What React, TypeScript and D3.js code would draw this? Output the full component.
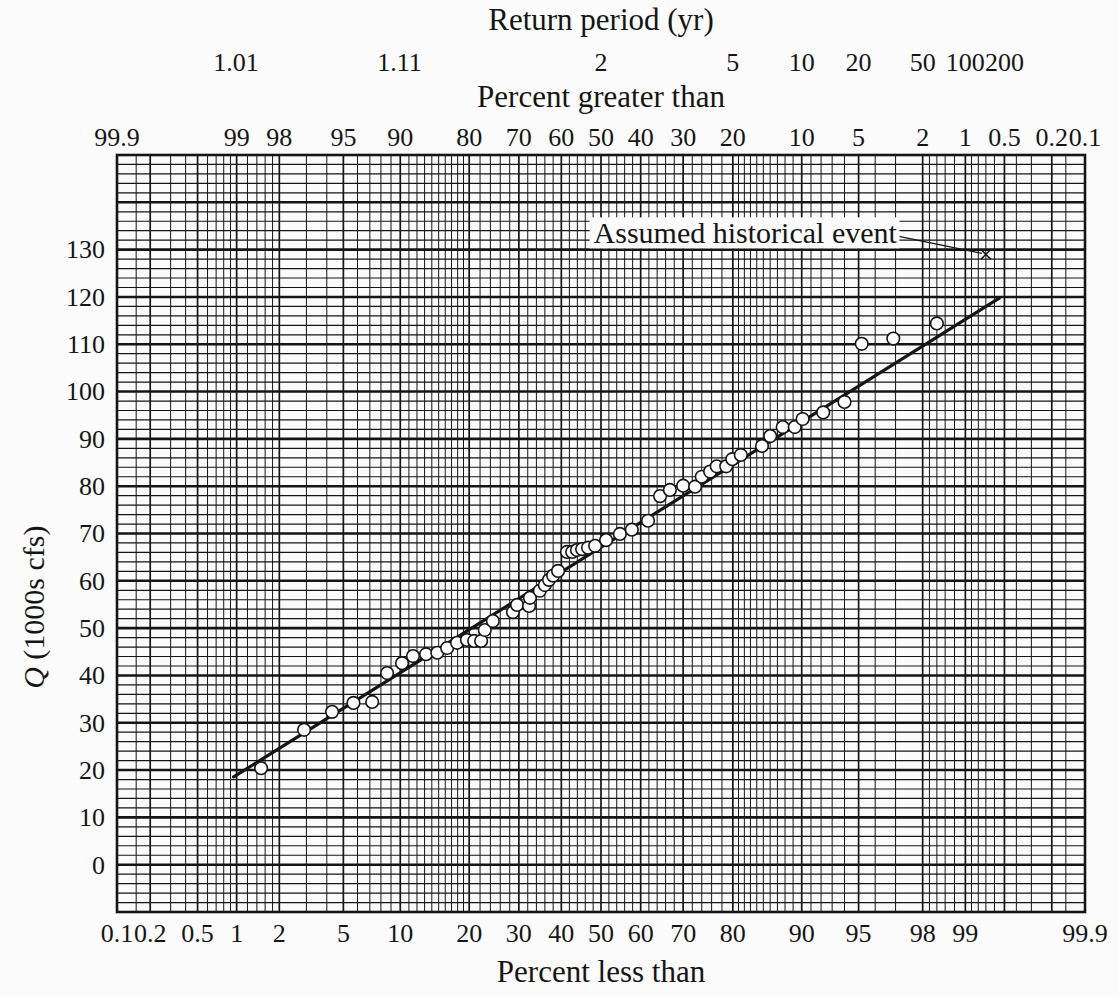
import React, { useEffect, useRef } from "react";
import * as d3 from "d3";

// plotted annual peaks: percent less than (plotting position) and flow in 1000s cfs
const percentLess = [
  1.5, 2.9, 4.3, 5.7, 7.2, 8.6, 10.2, 11.5, 13.2, 14.8, 16.3, 17.9, 19.6, 20.9,
  22.2, 22.9, 24.5, 28.7, 29.6, 32.3, 32.5, 34.8, 36.0, 37.0, 38.0, 39.2, 41.4,
  42.7, 43.9, 45.2, 46.7, 48.5, 51.3, 54.8, 57.8, 61.8, 64.7, 67.0, 70.0, 72.6,
  74.0, 75.7, 77.0, 78.8, 79.9, 81.4, 84.8, 86.0, 87.7, 89.2, 90.1, 92.2, 94.0,
  95.2, 96.9, 98.4,
];
const flowQ = [
  20.4, 28.5, 32.3, 34.2, 34.4, 40.5, 42.6, 44.1, 44.5, 44.8, 45.8, 46.9, 47.5,
  47.3, 47.3, 49.6, 51.5, 53.4, 54.9, 54.7, 56.4, 57.9, 59.1, 60.2, 61.1, 62.1,
  66.1, 66.1, 66.5, 66.7, 67.0, 67.4, 68.6, 69.9, 70.8, 72.7, 77.9, 79.2, 80.1,
  79.9, 82.0, 83.1, 84.2, 84.2, 85.7, 86.6, 88.5, 90.6, 92.5, 92.5, 94.2, 95.6,
  97.8, 110.1, 111.2, 114.4,
];

// fitted normal line (mean, std dev) and the percent range it is drawn over
const fitMean = 67.1;
const fitSd = 20.7;
const fitRange = [0.95, 99.45];

// assumed historical event (percent less than, Q)
const historical = { pct: 99.3, q: 129, label: "Assumed historical event" };

// axis labels
const bottomTicks = ["0.1", "0.2", "0.5", "1", "2", "5", "10", "20", "30", "40", "50", "60", "70", "80", "90", "95", "98", "99", "99.9"];
const topTicks = ["99.9", "99", "98", "95", "90", "80", "70", "60", "50", "40", "30", "20", "10", "5", "2", "1", "0.5", "0.2", "0.1"];
const returnPeriods = ["1.01", "1.11", "2", "5", "10", "20", "50", "100", "200"];
const qTicks = [0, 10, 20, 30, 40, 50, 60, 70, 80, 90, 100, 110, 120, 130];

// probability paper rulings (lower half, mirrored about 50)
const rulingMajor = [0.1, 0.2, 0.5, 1, 2, 5, 10, 20, 30, 40, 50];
const rulingMinor = [
  0.15, 0.3, 0.4, 0.6, 0.7, 0.8, 0.9, 1.2, 1.4, 1.6, 1.8, 3, 4, 6, 7, 8, 9,
  11, 12, 13, 14, 15, 16, 17, 18, 19, 22, 24, 26, 28, 32, 34, 36, 38, 42, 44, 46, 48,
];

// inverse standard normal cdf (Acklam)
function probit(p: number): number {
  const a = [-39.69683028665376, 220.9460984245205, -275.9285104469687, 138.357751867269, -30.66479806614716, 2.506628277459239];
  const b = [-54.47609879822406, 161.5858368580409, -155.6989798598866, 66.80131188771972, -13.28068155288572];
  const c = [-0.007784894002430293, -0.3223964580411365, -2.400758277161838, -2.549732539343734, 4.374664141464968, 2.938163982698783];
  const d = [0.007784695709041462, 0.3224671290700398, 2.445134137142996, 3.754408661907416];
  const pl = 0.02425;
  if (p < pl) {
    const q = Math.sqrt(-2 * Math.log(p));
    return (((((c[0] * q + c[1]) * q + c[2]) * q + c[3]) * q + c[4]) * q + c[5]) / ((((d[0] * q + d[1]) * q + d[2]) * q + d[3]) * q + 1);
  }
  if (p > 1 - pl) {
    const q = Math.sqrt(-2 * Math.log(1 - p));
    return -(((((c[0] * q + c[1]) * q + c[2]) * q + c[3]) * q + c[4]) * q + c[5]) / ((((d[0] * q + d[1]) * q + d[2]) * q + d[3]) * q + 1);
  }
  const q = p - 0.5;
  const r = q * q;
  return ((((((a[0] * r + a[1]) * r + a[2]) * r + a[3]) * r + a[4]) * r + a[5]) * q) / (((((b[0] * r + b[1]) * r + b[2]) * r + b[3]) * r + b[4]) * r + 1);
}

const App = () => {
  const svgRef = useRef<SVGSVGElement>(null);

  useEffect(() => {
    if (!svgRef.current) return;
    const svg = d3.select(svgRef.current);
    svg.selectAll("*").remove();

    const width = 1119;
    const height = 996;
    const left = 117;
    const right = 1085;
    const top = 155;
    const bottom = 912;
    const ink = "#151515";
    const font = "'Liberation Serif', 'Times New Roman', serif";

    const zScale = d3.scaleLinear().domain([probit(0.001), probit(0.999)]).range([left, right]);
    const x = (pct: number) => zScale(probit(pct / 100));
    const y = d3.scaleLinear().domain([-10, 150]).range([bottom, top]);

    svg.append("rect").attr("width", width).attr("height", height).attr("fill", "#fbfbfb");

    const grid = svg.append("g");

    // horizontal rulings every 2, heavy every 10
    const hVals = d3.range(-8, 150, 2);
    grid
      .selectAll("line.h")
      .data(hVals)
      .join("line")
      .attr("x1", left)
      .attr("x2", right)
      .attr("y1", (d) => y(d))
      .attr("y2", (d) => y(d))
      .attr("stroke", ink)
      .attr("stroke-width", (d) => (d % 10 === 0 ? 2.6 : 1.2));

    // vertical rulings
    const mirror = (arr: number[]) => arr.concat(arr.filter((v) => v !== 50).map((v) => +(100 - v).toFixed(2)));
    const major = mirror(rulingMajor);
    const minor = mirror(rulingMinor);
    grid
      .selectAll("line.vmin")
      .data(minor)
      .join("line")
      .attr("x1", (d) => x(d))
      .attr("x2", (d) => x(d))
      .attr("y1", top)
      .attr("y2", bottom)
      .attr("stroke", ink)
      .attr("stroke-width", 1);
    grid
      .selectAll("line.vmaj")
      .data(major)
      .join("line")
      .attr("x1", (d) => x(d))
      .attr("x2", (d) => x(d))
      .attr("y1", top)
      .attr("y2", bottom)
      .attr("stroke", ink)
      .attr("stroke-width", 1.7);

    grid
      .append("rect")
      .attr("x", left)
      .attr("y", top)
      .attr("width", right - left)
      .attr("height", bottom - top)
      .attr("fill", "none")
      .attr("stroke", ink)
      .attr("stroke-width", 2.6);

    // fitted line
    const line = d3
      .line<number>()
      .x((p) => x(p))
      .y((p) => y(fitMean + fitSd * probit(p / 100)));
    svg
      .append("path")
      .datum(fitRange)
      .attr("d", line)
      .attr("fill", "none")
      .attr("stroke", ink)
      .attr("stroke-width", 3.2)
      .attr("stroke-linecap", "round");

    // data points
    svg
      .append("g")
      .selectAll("circle")
      .data(percentLess.map((p, i) => [p, flowQ[i]]))
      .join("circle")
      .attr("cx", (d) => x(d[0]))
      .attr("cy", (d) => y(d[1]))
      .attr("r", 6.3)
      .attr("fill", "#fff")
      .attr("stroke", ink)
      .attr("stroke-width", 1.6);

    // historical event marker + label
    const hx = x(historical.pct);
    const hy = y(historical.q);
    const mk = svg.append("g").attr("stroke", ink).attr("stroke-width", 1.5);
    mk.append("line").attr("x1", hx - 5).attr("y1", hy - 5).attr("x2", hx + 5).attr("y2", hy + 5);
    mk.append("line").attr("x1", hx - 5).attr("y1", hy + 5).attr("x2", hx + 5).attr("y2", hy - 5);
    mk.append("line").attr("x1", hx - 87).attr("y1", hy - 18).attr("x2", hx - 4).attr("y2", hy - 1).attr("stroke-width", 1.3);

    const labelG = svg.append("g");
    const labelText = labelG
      .append("text")
      .attr("x", hx - 89)
      .attr("y", hy - 11)
      .attr("text-anchor", "end")
      .attr("font-family", font)
      .attr("font-size", 30)
      .attr("fill", ink)
      .text(historical.label);
    const bb = (labelText.node() as SVGTextElement).getBBox();
    labelG
      .insert("rect", "text")
      .attr("x", bb.x - 4)
      .attr("y", bb.y + 1)
      .attr("width", bb.width + 6)
      .attr("height", bb.height - 2)
      .attr("fill", "#fbfbfb");

    const txt = svg.append("g").attr("font-family", font).attr("fill", ink).attr("text-anchor", "middle");

    // left axis labels
    txt
      .selectAll("text.q")
      .data(qTicks)
      .join("text")
      .attr("x", left - 12)
      .attr("y", (d) => y(d))
      .attr("dy", "0.34em")
      .attr("text-anchor", "end")
      .attr("font-size", 26)
      .text((d) => d);

    const yTitle = txt
      .append("text")
      .attr("transform", `translate(44,${(y(0) + y(130)) / 2 + 50}) rotate(-90)`)
      .attr("font-size", 30);
    yTitle.append("tspan").attr("font-style", "italic").text("Q");
    yTitle.append("tspan").text(" (1000s cfs)");

    // bottom axis
    txt
      .selectAll("text.b")
      .data(bottomTicks)
      .join("text")
      .attr("x", (d) => x(+d))
      .attr("y", 942)
      .attr("font-size", 26)
      .text((d) => d);
    txt.append("text").attr("x", (left + right) / 2).attr("y", 982).attr("font-size", 31).text("Percent less than");

    // top axis: percent greater than
    txt
      .selectAll("text.t")
      .data(topTicks)
      .join("text")
      .attr("x", (d) => x(100 - +d))
      .attr("y", 146)
      .attr("font-size", 26)
      .text((d) => d);
    txt.append("text").attr("x", (left + right) / 2).attr("y", 107).attr("font-size", 31).text("Percent greater than");

    // return period
    txt
      .selectAll("text.r")
      .data(returnPeriods)
      .join("text")
      .attr("x", (d) => x(100 * (1 - 1 / +d)))
      .attr("y", 71)
      .attr("font-size", 26)
      .text((d) => d);
    txt.append("text").attr("x", (left + right) / 2).attr("y", 30).attr("font-size", 31).text("Return period (yr)");
  }, []);

  return (
    <svg
      ref={svgRef}
      width={1119}
      height={996}
      style={{ position: "absolute", left: 0, top: 0, display: "block" }}
    />
  );
};

export default App;
